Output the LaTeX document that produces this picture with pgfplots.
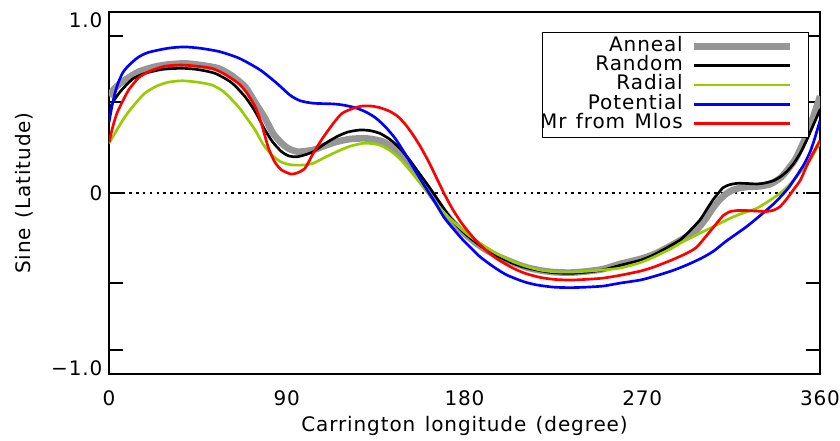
\documentclass[border=0pt]{standalone}
\usepackage{fontspec}
\setmainfont{DejaVu Sans}[LetterSpace=4.5, WordSpace=1.3]
\usepackage{pgfplots}
\pgfplotsset{compat=1.18}
\definecolor{annealgray}{RGB}{150,150,150}
\definecolor{radialgreen}{RGB}{153,204,0}
\newcommand{\lblfont}{\fontsize{15}{18}\selectfont}
\newcommand{\legtxt}[1]{\makebox[101pt][r]{#1}}

\begin{document}
\begin{tikzpicture}
\begin{axis}[
  scale only axis,
  width=533.25pt, height=271.5pt,
  xmin=0, xmax=360, ymin=-1, ymax=1,
  axis line style={line width=1.5pt},
  tick align=inside,
  xtick={0,90,180,270,360},
  xticklabels={0,90,180,270,360},
  xtick style={draw=none},
  minor xtick={0,30,...,360},
  minor tick length=5.25pt,
  minor tick style={line width=1.5pt, black},
  ytick={-1,-0.866,-0.5,0,0.5,0.866,1},
  yticklabels={\raisebox{4.5pt}[\height][\depth]{−1.0},,,0,,,\raisebox{-6.4pt}[\height][\depth]{1.0}},
  major tick length=10.5pt,
  ytick style={line width=1.5pt, black},
  tick label style={font=\lblfont},
  xticklabel style={yshift=-9pt},
  yticklabel style={xshift=-1.4pt},
  label style={font=\lblfont},
  xlabel={Carrington longitude (degree)},
  ylabel={Sine (Latitude)},
  xlabel style={at={(axis description cs:0.5,0)}, anchor=north, yshift=-28pt},
  ylabel style={at={(axis description cs:-0.1,0.5)}, anchor=south},
  legend cell align=right,
  legend plot pos=right,
  legend image code/.code={\draw[#1] (0pt,0pt) -- (72.25pt,0pt); \path (78.75pt,0pt);},
  legend style={at={(0.9845,0.9448)}, anchor=north east, font=\lblfont,
    draw=black, line width=0.8pt, inner xsep=4.5pt, inner ysep=3pt,
    column sep=6pt,
    nodes={inner sep=0pt, text height=11pt, text depth=3.5pt}},
  every axis plot/.append style={smooth, tension=0.4},
]
\addplot[black, line width=2pt, dash pattern=on 1.8pt off 3.3pt, forget plot, no markers, sharp plot]
  coordinates {(0,0) (360,0)};

% Anneal
\addplot[annealgray, line width=5pt] coordinates {
(0,0.535) (3,0.58) (8.1,0.624) (15,0.67) (23.3,0.698) (30,0.71) (38.5,0.716)
(47,0.706) (55.3,0.689) (62,0.65) (68.9,0.587) (74,0.50) (79,0.413) (83,0.33)
(87.4,0.275) (91,0.245) (95.8,0.228) (103.4,0.238) (109,0.26) (115.3,0.283)
(122,0.298) (128.8,0.302) (133,0.298) (139,0.283) (144,0.247) (149,0.195)
(154,0.13) (159,0.055) (164,-0.02) (169,-0.095) (174,-0.16) (179,-0.215)
(186,-0.278) (191,-0.315) (197,-0.35) (204.7,-0.385) (211,-0.41)
(218,-0.427) (225,-0.437) (233.4,-0.44) (242,-0.433) (250.3,-0.42)
(258.7,-0.392) (268.9,-0.365) (275.6,-0.34) (283,-0.3) (292.5,-0.241)
(297.5,-0.205) (302,-0.145) (306,-0.08) (309.4,-0.035) (312.8,-0.002)
(316,0.017) (319.5,0.028) (324,0.034) (329.6,0.037) (335,0.05) (339.7,0.081)
(343,0.12) (346.5,0.17) (348.2,0.2) (352,0.29) (354.9,0.37) (357.5,0.45)
(360,0.535)
};
\addlegendentry{\legtxt{Anneal}}

% Random
\addplot[black, line width=2pt] coordinates {
(0,0.46) (3,0.52) (6.4,0.569) (12,0.63) (18.2,0.661) (27,0.683) (36.8,0.689)
(45,0.682) (53.7,0.661) (62,0.61) (68.9,0.532) (74,0.45) (79,0.348) (83,0.28)
(87.4,0.228) (91,0.205) (95,0.2) (99,0.21) (103.4,0.228) (109,0.27)
(115.3,0.311) (121,0.337) (127,0.348) (132,0.345) (137,0.33) (142,0.298)
(147,0.25) (152,0.185) (157,0.11) (162,0.035) (167,-0.045) (172,-0.125)
(177,-0.19) (181.1,-0.232) (186,-0.275) (191.2,-0.315) (197,-0.35)
(204.7,-0.389) (211,-0.412) (218.2,-0.429) (225,-0.44) (233.4,-0.444)
(242,-0.437) (250.3,-0.425) (258.7,-0.40) (268.9,-0.372) (275.6,-0.343)
(282,-0.305) (289.1,-0.26) (294,-0.21) (299.2,-0.149) (303,-0.085)
(306,-0.035) (309,0.005) (311,0.03) (314,0.045) (317.8,0.053) (322,0.053)
(327.9,0.05) (332,0.055) (336.4,0.068) (340,0.09) (343.1,0.118)
(346.5,0.16) (350,0.22) (353.3,0.293) (356,0.36) (360,0.46)
};
\addlegendentry{\legtxt{Random}}

% Radial
\addplot[radialgreen, line width=2pt] coordinates {
(0,0.275) (3,0.33) (6,0.385) (9,0.435) (13,0.49) (18,0.55) (24,0.59)
(30,0.612) (37,0.62) (45,0.612) (52,0.597) (58,0.56) (65.5,0.477) (70,0.41)
(74,0.348) (78,0.27) (82.4,0.21) (87,0.172) (92.5,0.155) (99.2,0.155)
(103.4,0.164) (109,0.195) (115.3,0.228) (122,0.258) (128.8,0.275) (133,0.273)
(137,0.265) (142,0.237) (147,0.192) (152,0.13) (157,0.062) (162,-0.007)
(167,-0.075) (172,-0.135) (177,-0.185) (182,-0.232) (187,-0.272)
(192,-0.307) (197,-0.34) (204.7,-0.38) (211,-0.405) (218,-0.425) (225,-0.435)
(233.4,-0.437) (242,-0.432) (250.3,-0.425) (258.7,-0.415) (268.9,-0.385)
(275.6,-0.355) (285,-0.305) (289.1,-0.278) (295,-0.245) (302.6,-0.204)
(308,-0.175) (314.4,-0.14) (320,-0.115) (327.9,-0.085) (334,-0.045)
(339.7,-0.002) (344,0.04) (348.2,0.09) (351.5,0.135) (354.9,0.182)
(357.5,0.23) (360,0.275)
};
\addlegendentry{\legtxt{Radial}}

% Potential
\addplot[blue, line width=2pt] coordinates {
(0,0.39) (1.5,0.48) (3,0.55) (4.7,0.61) (7,0.665) (10,0.705) (14.8,0.75)
(20,0.777) (30,0.80) (38,0.807) (46,0.80) (56,0.781) (66,0.744) (76.5,0.68)
(85,0.606) (91.6,0.541) (96.7,0.51) (103.4,0.496) (113.6,0.492) (119,0.485)
(125,0.47) (130,0.448) (135,0.415) (140,0.365) (145,0.30) (150,0.215)
(155,0.125) (160,0.035) (165,-0.05) (170,-0.14) (177.7,-0.241) (182,-0.29)
(187.8,-0.352) (195,-0.41) (201.4,-0.453) (210,-0.49) (216.6,-0.508)
(225,-0.52) (233.4,-0.523) (242,-0.52) (250.3,-0.514) (258.7,-0.498)
(268.9,-0.481) (275.6,-0.462) (285,-0.43) (292.5,-0.398) (300,-0.36)
(306,-0.322) (312,-0.27) (317.8,-0.225) (322.8,-0.186) (328,-0.14)
(333,-0.094) (337,-0.055) (341.4,-0.005) (344.5,0.035) (348.2,0.095)
(352,0.16) (354.9,0.225) (357,0.29) (360,0.40)
};
\addlegendentry{\legtxt{Potential}}

% Mr from Mlos
\addplot[red, line width=2pt] coordinates {
(0,0.28) (2,0.37) (4,0.44) (6.4,0.496) (10,0.57) (14.8,0.634) (20,0.67)
(28,0.70) (36.8,0.707) (45,0.70) (52,0.689) (58,0.66) (65.5,0.606) (70,0.55)
(74,0.477) (77,0.39) (80.7,0.25) (84,0.17) (87.4,0.127) (92,0.105) (95,0.11)
(99.2,0.136) (103.4,0.219) (108,0.30) (113.6,0.385) (118,0.44) (123.7,0.468)
(128,0.48) (132.2,0.481) (137,0.472) (142,0.452) (146,0.425) (150,0.38)
(154,0.32) (158,0.25) (162,0.17) (166,0.08) (170,-0.01) (174,-0.09)
(178,-0.158) (182,-0.215) (186,-0.265) (191,-0.318) (197,-0.368)
(204.7,-0.416) (211,-0.445) (218.2,-0.466) (225,-0.477) (233.4,-0.481)
(242,-0.477) (250.3,-0.47) (258.7,-0.455) (268.9,-0.432) (275.6,-0.41)
(285,-0.37) (292.5,-0.333) (297.5,-0.30) (302.6,-0.235) (307.7,-0.167)
(311,-0.125) (314.4,-0.103) (318,-0.097) (322.8,-0.097) (328,-0.1)
(333,-0.102) (336.5,-0.095) (339.7,-0.076) (343,-0.035) (346.5,0.017)
(350,0.07) (353.3,0.15) (356,0.21) (360,0.29)
};
\addlegendentry{\legtxt{Mr from Mlos}}
\end{axis}
\pgfresetboundingbox
\path ([shift={(-81.75pt,-50.25pt)}]current axis.south west)
  rectangle ([shift={(15pt,9pt)}]current axis.north east);
\end{tikzpicture}
\end{document}
